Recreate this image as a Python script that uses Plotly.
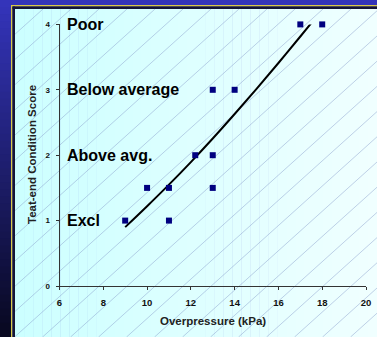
import plotly.graph_objects as go

# Observed teat-end scores against overpressure
pressure_kpa = [9, 10, 11, 11, 12.2, 13, 13, 13, 14, 17, 18]
teat_score = [1, 1.5, 1.5, 1, 2, 1.5, 2, 3, 3, 4, 4]

# Fitted trend curve
trend_x = [9.0, 10.0, 11.0, 12.0, 13.0, 14.0, 15.0, 16.0, 17.0, 17.5]
trend_y = [0.90, 1.22, 1.55, 1.895, 2.255, 2.63, 3.015, 3.41, 3.815, 4.02]

# Score category names
score_levels = [4, 3, 2, 1]
score_names = ["Poor", "Below average", "Above avg.", "Excl"]

x_ticks = [6, 8, 10, 12, 14, 16, 18, 20]
y_ticks = [0, 1, 2, 3, 4]

W, H = 377, 337
FONT = "Liberation Sans, Arial, sans-serif"


def px_x(x):
    return x / W


def px_y(y):
    return 1 - y / H


def lerp_color(c0, c1, t):
    return "rgb(%d,%d,%d)" % tuple(round(a + (b - a) * t) for a, b in zip(c0, c1))


shapes = []

# dark blue frame: vertical gradient on the left strip, flat blue top strip
n = 48
for i in range(n):
    y0 = H * i / n
    y1 = H * (i + 1) / n + 0.5
    shapes.append(dict(type="rect", xref="paper", yref="paper",
                       x0=0, x1=px_x(12), y0=px_y(y1), y1=px_y(y0),
                       fillcolor=lerp_color((52, 52, 186), (8, 8, 32), i / (n - 1)),
                       line_width=0, layer="below"))
shapes.append(dict(type="rect", xref="paper", yref="paper",
                   x0=px_x(12), x1=1, y0=px_y(6), y1=1,
                   fillcolor="rgb(52,52,186)", line_width=0, layer="below"))

# inner frame: yellow rule, then a dark rule
shapes.append(dict(type="rect", xref="paper", yref="paper",
                   x0=px_x(11), x1=px_x(12.5), y0=0, y1=px_y(5),
                   fillcolor="#d8c848", line_width=0, layer="below"))
shapes.append(dict(type="rect", xref="paper", yref="paper",
                   x0=px_x(11), x1=1, y0=px_y(6.5), y1=px_y(5),
                   fillcolor="#d8c848", line_width=0, layer="below"))
shapes.append(dict(type="rect", xref="paper", yref="paper",
                   x0=px_x(12.5), x1=px_x(15), y0=0, y1=px_y(6.5),
                   fillcolor="#141436", line_width=0, layer="below"))
shapes.append(dict(type="rect", xref="paper", yref="paper",
                   x0=px_x(12.5), x1=1, y0=px_y(9), y1=px_y(6.5),
                   fillcolor="#141436", line_width=0, layer="below"))

# light cyan panel with a left-to-right gradient
PX0, PX1, PY0, PY1 = 15, W, 9, H
m = 40
for i in range(m):
    x0 = PX0 + (PX1 - PX0) * i / m
    x1 = PX0 + (PX1 - PX0) * (i + 1) / m + 0.5
    shapes.append(dict(type="rect", xref="paper", yref="paper",
                       x0=px_x(x0), x1=px_x(x1), y0=px_y(PY1), y1=px_y(PY0),
                       fillcolor=lerp_color((204, 255, 255), (240, 255, 255), i / (m - 1)),
                       line_width=0, layer="below"))

# diagonal hatching clipped to the panel
slope = 0.9
spacing = 28
segs = []
c = PY0 + slope * PX0
c_max = PY1 + slope * PX1
while c <= c_max:
    pts = []
    for x in (PX0, PX1):
        y = c - slope * x
        if PY0 <= y <= PY1:
            pts.append((x, y))
    for y in (PY0, PY1):
        x = (c - y) / slope
        if PX0 <= x <= PX1:
            pts.append((x, y))
    if len(pts) >= 2:
        pts.sort()
        (xa, ya), (xb, yb) = pts[0], pts[-1]
        segs.append("M%.5f,%.5f L%.5f,%.5f" % (px_x(xa), px_y(ya), px_x(xb), px_y(yb)))
    c += spacing * slope
shapes.append(dict(type="path", xref="paper", yref="paper", path=" ".join(segs),
                   line=dict(color="rgba(130,150,200,0.45)", width=1), layer="below"))

fig = go.Figure()
fig.add_trace(go.Scatter(x=trend_x, y=trend_y, mode="lines",
                         line=dict(color="black", width=2, shape="spline", smoothing=1.0),
                         hoverinfo="skip", cliponaxis=False))
fig.add_trace(go.Scatter(x=pressure_kpa, y=teat_score, mode="markers",
                         marker=dict(symbol="square", size=6, color="#000080"),
                         cliponaxis=False))

annotations = []
for lvl, name in zip(score_levels, score_names):
    annotations.append(dict(x=6.25, y=lvl, xref="x", yref="y", text=name,
                            showarrow=False, xanchor="left", yanchor="middle",
                            font=dict(family=FONT, size=16, color="black", weight="bold")))
annotations.append(dict(x=(59.5 + 366) / 2 / W, y=px_y(321), xref="paper", yref="paper",
                        text="Overpressure (kPa)", showarrow=False,
                        xanchor="center", yanchor="middle",
                        font=dict(family=FONT, size=11.5, color="#222", weight="bold")))
annotations.append(dict(x=px_x(32), y=px_y(155), xref="paper", yref="paper",
                        text="Teat-end Condition Score", showarrow=False, textangle=-90,
                        xanchor="center", yanchor="middle",
                        font=dict(family=FONT, size=11.5, color="#222", weight="bold")))

fig.update_layout(
    width=W, height=H,
    autosize=False,
    margin=dict(l=0, r=0, t=0, b=0, pad=0, autoexpand=False),
    paper_bgcolor="rgb(52,52,186)",
    plot_bgcolor="rgba(0,0,0,0)",
    showlegend=False,
    shapes=shapes,
    annotations=annotations,
    xaxis=dict(domain=[59.5 / W, 366 / W], range=[6, 20], tickvals=x_ticks,
               showgrid=False, zeroline=False, showline=True, linecolor="#333",
               linewidth=1, ticks="outside", ticklen=3, tickcolor="#333",
               ticklabelstandoff=5, automargin=False,
               tickfont=dict(family=FONT, size=9.5, color="#111", weight="bold")),
    yaxis=dict(domain=[1 - 286 / H, 1 - 24.4 / H], range=[0, 4], tickvals=y_ticks,
               showgrid=False, zeroline=False, showline=True, linecolor="#333",
               linewidth=1, ticks="outside", ticklen=3, tickcolor="#333",
               ticklabelstandoff=4, automargin=False,
               tickfont=dict(family=FONT, size=8, color="#111", weight="bold")),
)

fig.write_html("out.html")
